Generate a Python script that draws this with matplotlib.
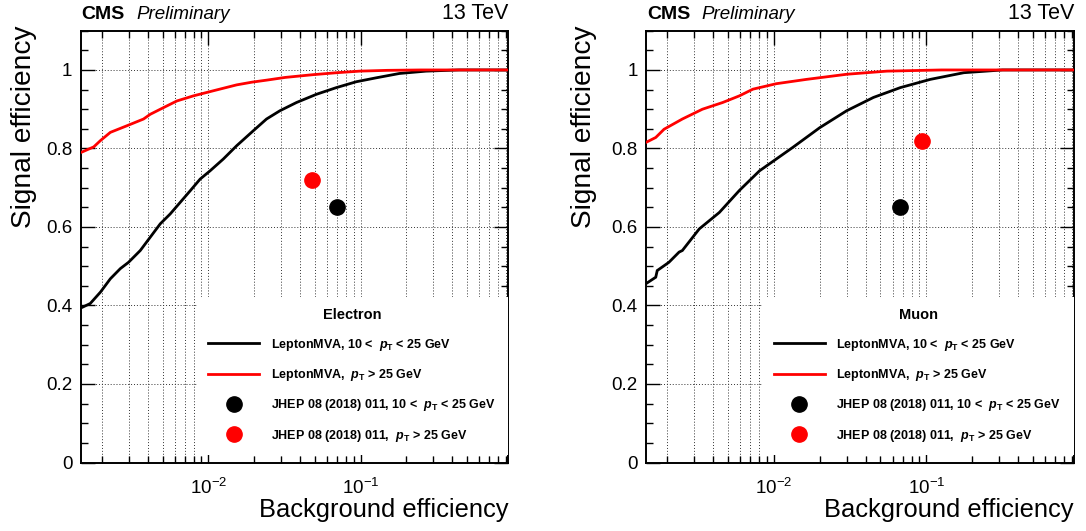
import matplotlib
matplotlib.use("Agg")
import matplotlib.pyplot as plt
from matplotlib.lines import Line2D
from matplotlib.ticker import LogLocator, MultipleLocator, FuncFormatter, NullFormatter

plt.rcParams['font.family'] = ['Liberation Sans', 'DejaVu Sans']
plt.rcParams['mathtext.fontset'] = 'custom'
plt.rcParams['mathtext.rm'] = 'Liberation Sans'
plt.rcParams['mathtext.it'] = 'Liberation Sans:italic'
plt.rcParams['mathtext.bf'] = 'Liberation Sans:bold'
plt.rcParams['mathtext.bfit'] = 'Liberation Sans:italic:bold'

# ---------------- data ----------------
ele_low_bkg = [0.00146, 0.001675, 0.001954, 0.00227, 0.002642, 0.00299, 0.00357, 0.00483,
               0.00561, 0.00759, 0.00883, 0.01026, 0.01253, 0.01535, 0.01972, 0.0241,
               0.0295, 0.0379, 0.0513, 0.0693, 0.0938, 0.1268, 0.1799, 0.269, 0.445, 0.93]
ele_low_sig = [0.394, 0.405, 0.434, 0.468, 0.494, 0.510, 0.540, 0.608,
               0.633, 0.692, 0.722, 0.743, 0.773, 0.807, 0.845, 0.875,
               0.896, 0.917, 0.938, 0.955, 0.970, 0.980, 0.991, 0.997, 1.0, 1.0]
ele_high_bkg = [0.00146, 0.001766, 0.001954, 0.00227, 0.002924, 0.00375, 0.00415, 0.00507,
                0.00621, 0.00798, 0.01079, 0.01535, 0.0194, 0.0241, 0.032, 0.0488,
                0.07, 0.0986, 0.15, 0.25, 0.93]
ele_high_sig = [0.790, 0.804, 0.820, 0.841, 0.858, 0.875, 0.887, 0.904,
                0.921, 0.934, 0.947, 0.962, 0.969, 0.974, 0.981, 0.988,
                0.993, 0.997, 0.999, 1.0, 1.0]

mu_low_bkg = [0.001442, 0.00168, 0.001718, 0.00205, 0.00239, 0.00251, 0.00324, 0.00439,
              0.00594, 0.00805, 0.01334, 0.02, 0.03, 0.045, 0.0675, 0.1062, 0.1762, 0.316, 0.946]
mu_low_sig = [0.455, 0.472, 0.489, 0.510, 0.536, 0.540, 0.595, 0.637,
              0.693, 0.743, 0.803, 0.853, 0.896, 0.930, 0.955, 0.976, 0.993, 1.0, 1.0]
mu_high_bkg = [0.001442, 0.00168, 0.001905, 0.00251, 0.0034, 0.00461, 0.00594, 0.00728,
               0.01038, 0.01637, 0.03, 0.0551, 0.126, 0.946]
mu_high_sig = [0.815, 0.828, 0.849, 0.875, 0.900, 0.917, 0.934, 0.951,
               0.965, 0.976, 0.989, 0.997, 1.0, 1.0]

ele_ref_bkg = [0.070, 0.048]
ele_ref_sig = [0.65, 0.72]
mu_ref_bkg = [0.0674, 0.0937]
mu_ref_sig = [0.65, 0.82]

titles = ["Electron", "Muon"]
labels = [r"LeptonMVA, 10 <  $\mathbfit{p}_{\mathbf{T}}$ < 25 GeV",
          r"LeptonMVA,  $\mathbfit{p}_{\mathbf{T}}$ > 25 GeV",
          r"JHEP 08 (2018) 011, 10 <  $\mathbfit{p}_{\mathbf{T}}$ < 25 GeV",
          r"JHEP 08 (2018) 011,  $\mathbfit{p}_{\mathbf{T}}$ > 25 GeV"]
colors = ["black", "#ff0000"]
xlim = (0.00145, 0.93)
ylim = (0.0, 1.1)

panels = [
    (ele_low_bkg, ele_low_sig, ele_high_bkg, ele_high_sig, ele_ref_bkg, ele_ref_sig),
    (mu_low_bkg, mu_low_sig, mu_high_bkg, mu_high_sig, mu_ref_bkg, mu_ref_sig),
]

fig = plt.figure(figsize=(10.86, 5.31), dpi=100)
W, H = 1086, 531
axes_px = [(80.7, 30.7, 508, 462.5), (646, 30.7, 1074, 462.5)]
ylabel_x = [-0.102, -0.115]

def yfmt(v, pos):
    s = ("%.1f" % v)
    if s.endswith(".0"):
        s = s[:-2]
    return s

for i, (lb, ls_, hb, hs, rb, rs) in enumerate(panels):
    x0, y0, x1, y1 = axes_px[i]
    ax = fig.add_axes([x0 / W, 1 - y1 / H, (x1 - x0) / W, (y1 - y0) / H])
    ax.set_xscale('log')
    ax.set_xlim(*xlim)
    ax.set_ylim(*ylim)

    ax.plot(lb, ls_, color=colors[0], lw=2.0, zorder=3, solid_joinstyle='miter')
    ax.plot(hb, hs, color=colors[1], lw=2.0, zorder=3, solid_joinstyle='miter')
    ax.plot([rb[0]], [rs[0]], 'o', color=colors[0], ms=11, zorder=4)
    ax.plot([rb[1]], [rs[1]], 'o', color=colors[1], ms=11, zorder=4)

    ax.xaxis.set_major_locator(LogLocator(base=10, numticks=10))
    ax.xaxis.set_minor_locator(LogLocator(base=10, subs=range(2, 10), numticks=20))
    ax.xaxis.set_minor_formatter(NullFormatter())
    ax.yaxis.set_major_locator(MultipleLocator(0.2))
    ax.yaxis.set_minor_locator(MultipleLocator(0.05))
    ax.yaxis.set_major_formatter(FuncFormatter(yfmt))

    ax.tick_params(which='both', direction='in', top=True, right=True, labelsize=13.5,
                   width=1.0, color='black')
    ax.tick_params(which='major', length=10)
    ax.tick_params(which='minor', length=5)
    ax.tick_params(axis='x', which='major', pad=11)
    ax.tick_params(axis='y', which='major', pad=6)
    for sp in ax.spines.values():
        sp.set_linewidth(1.4)

    ax.grid(True, which='major', axis='both', color='#333333', linestyle=(0, (1, 2)), lw=0.7)
    ax.grid(True, which='minor', axis='x', color='#333333', linestyle=(0, (1, 2)), lw=0.7)
    ax.set_axisbelow(True)

    ax.set_xlabel("Background efficiency", fontsize=18.4, loc='right')
    ax.xaxis.set_label_coords(1.0, -0.083)
    ax.set_ylabel("Signal efficiency", fontsize=20.2, loc='top')
    ax.yaxis.set_label_coords(ylabel_x[i], 1.013)

    ax.text(0.002, 1.026, "CMS", transform=ax.transAxes, fontsize=14, fontweight='bold',
            ha='left', va='baseline')
    ax.text(0.13, 1.026, "Preliminary", transform=ax.transAxes, fontsize=13.5,
            style='italic', ha='left', va='baseline')
    ax.text(1.0, 1.026, "13 TeV", transform=ax.transAxes, fontsize=15.5,
            ha='right', va='baseline')

    handles = [Line2D([], [], color=colors[0], lw=2.0),
               Line2D([], [], color=colors[1], lw=2.0),
               Line2D([], [], marker='o', ls='none', color=colors[0], ms=11),
               Line2D([], [], marker='o', ls='none', color=colors[1], ms=11)]
    leg = ax.legend(handles, labels, title=titles[i], loc='upper left',
                    bbox_to_anchor=(0.272, 0.029, 0.728, 0.354), mode='expand',
                    prop={'weight': 'bold', 'size': 9},
                    title_fontproperties={'weight': 'bold', 'size': 10.5},
                    handlelength=4.1, handletextpad=0.9, labelspacing=1.15,
                    borderpad=0.9, borderaxespad=0, fancybox=False,
                    frameon=True, framealpha=1.0, facecolor='white', edgecolor='none')
    leg.set_zorder(10)

fig.savefig("out.png", dpi=100)
